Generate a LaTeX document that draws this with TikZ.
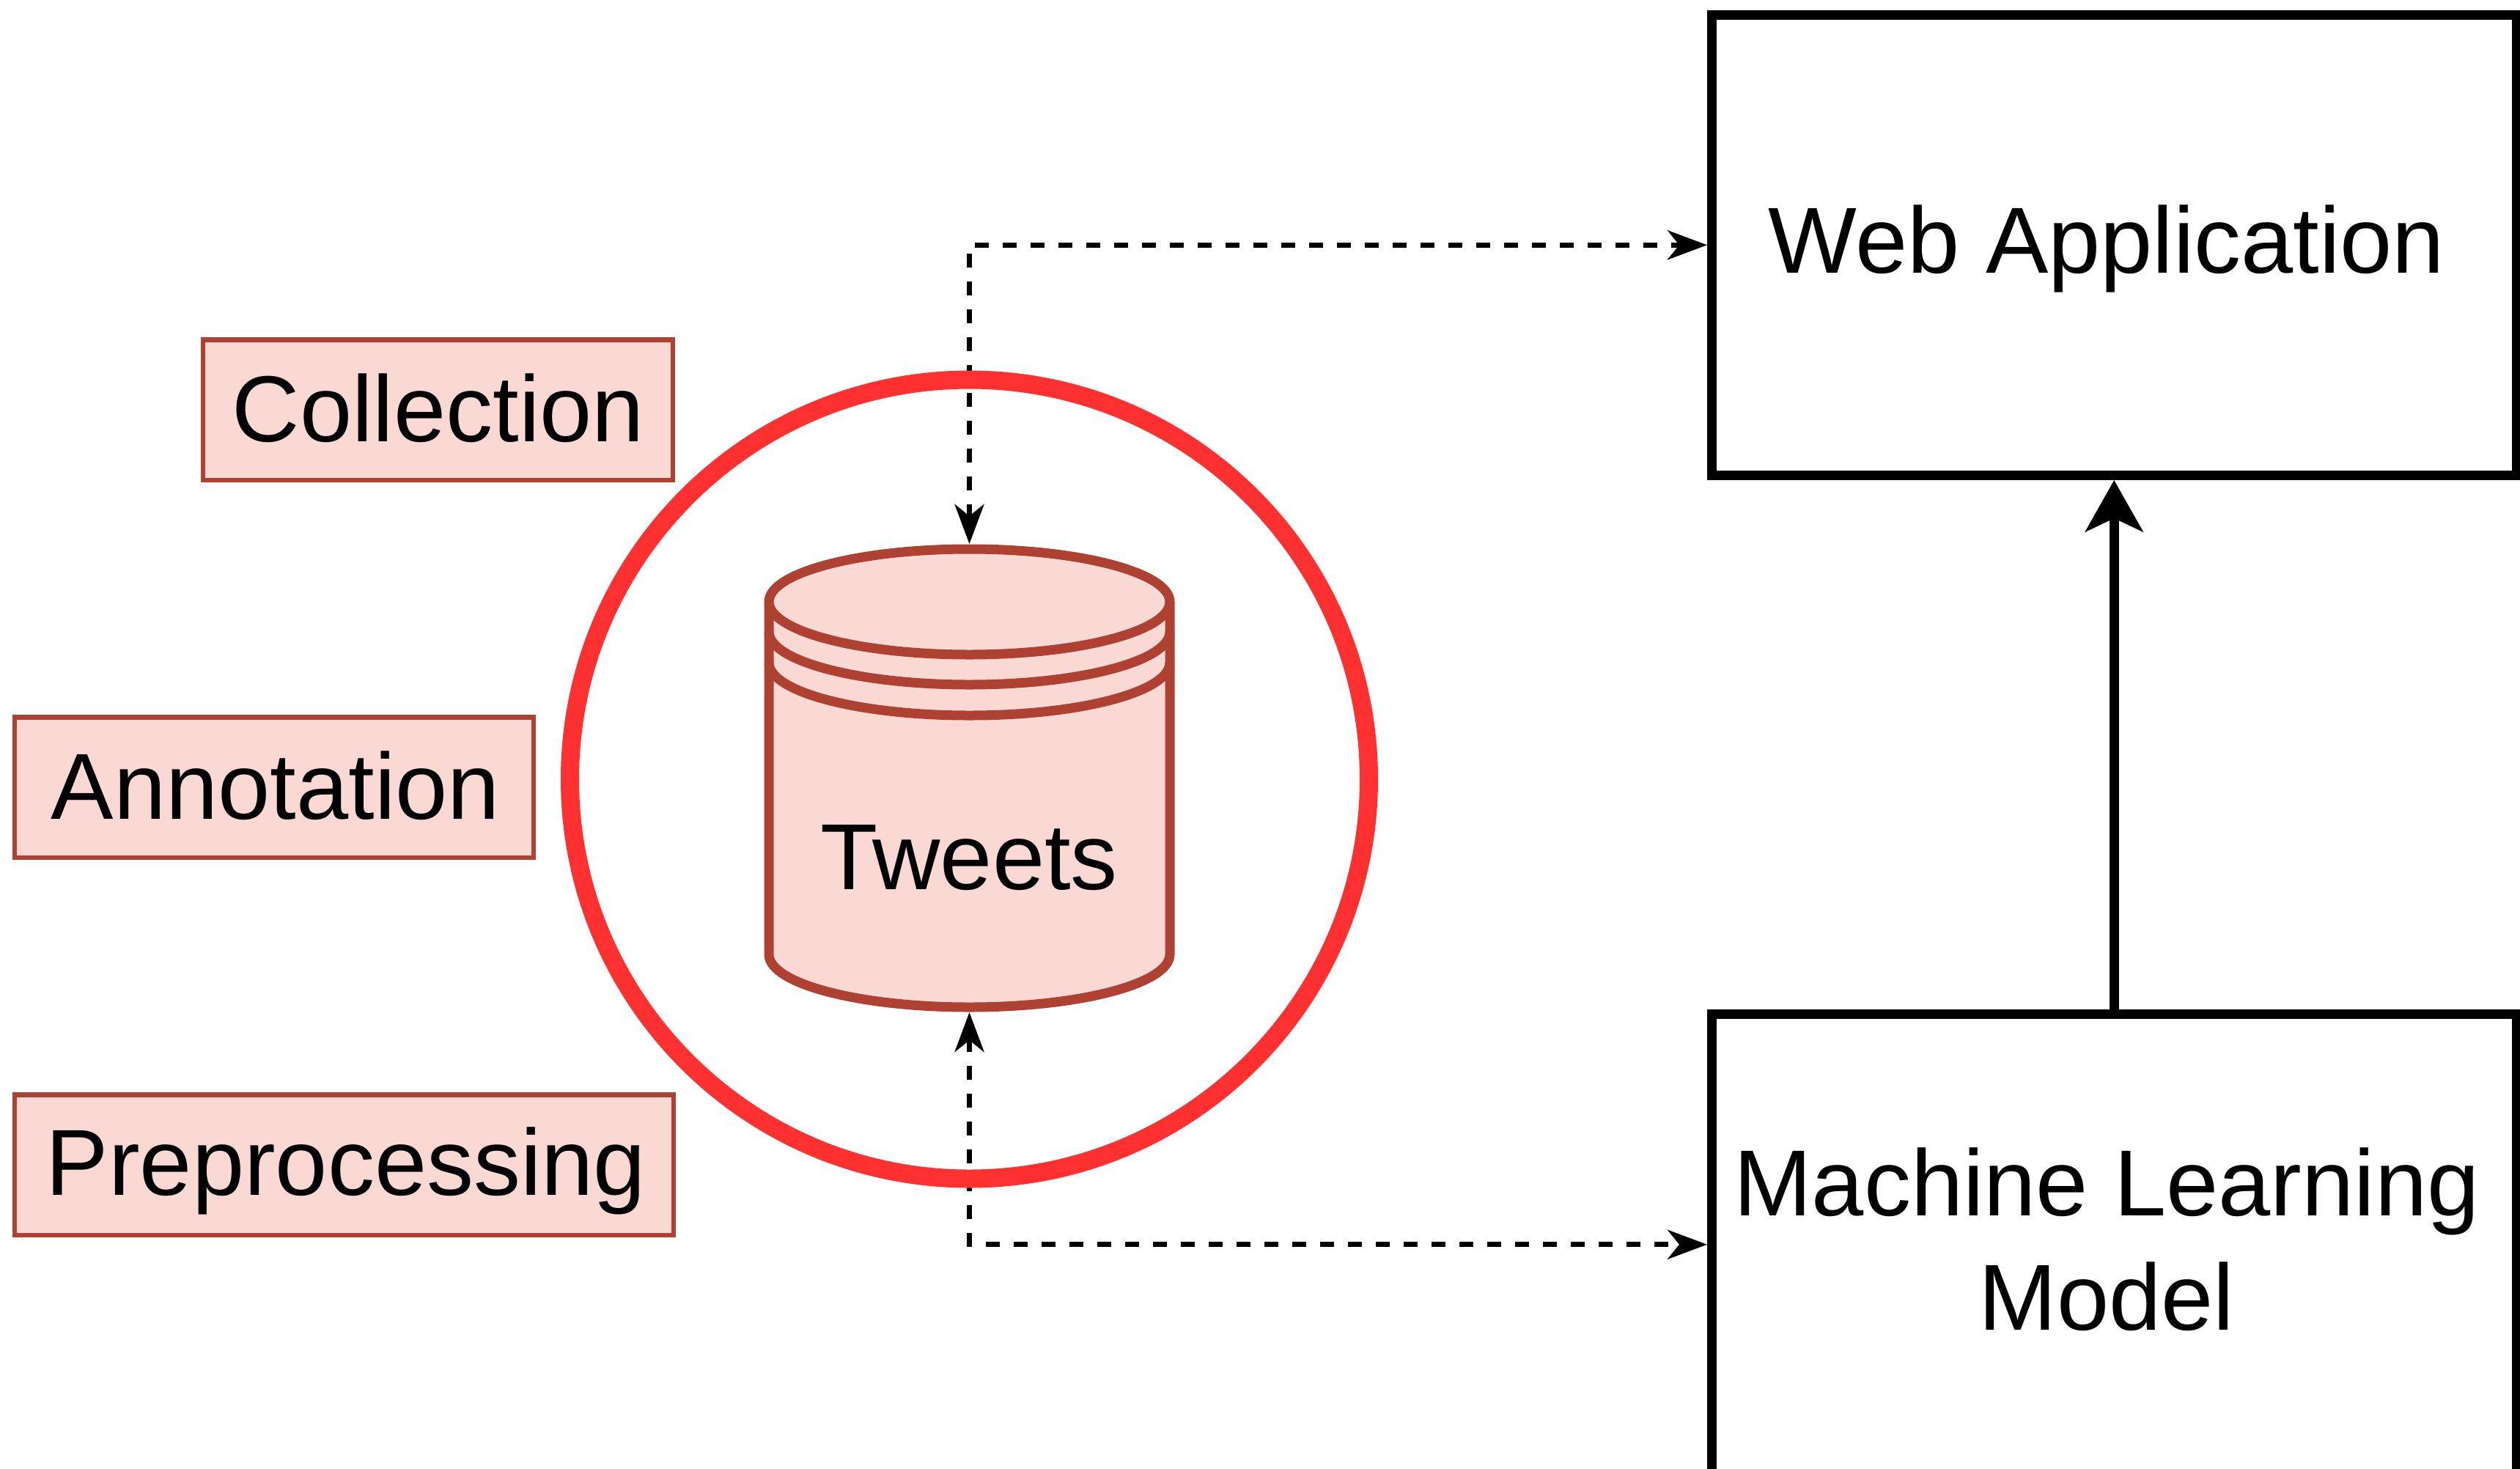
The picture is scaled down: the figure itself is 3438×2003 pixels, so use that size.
\documentclass[tikz,border=0pt]{standalone}
\usepackage{fontspec}
\setmainfont{Liberation Sans}
\usetikzlibrary{arrows.meta}
\definecolor{tagfill}{HTML}{FAD9D5}
\definecolor{tagline}{HTML}{AE4132}
\definecolor{ringred}{HTML}{FF3030}
\tikzset{
  x=0.5pt,y=-0.5pt,
  every node/.style={font=\fontsize{64}{78}\selectfont,align=center,outer sep=0pt,inner sep=0pt},
  blockbox/.style={draw=black,line width=6.5pt,fill=white,anchor=north west,outer sep=3.25pt,
    minimum width=548.75pt,minimum height=314.25pt},
  tagbox/.style={draw=tagline,line width=3.25pt,fill=tagfill,anchor=north west,minimum height=95.75pt},
  dashlink/.style={draw=black,line width=3.5pt,dash pattern=on 9.5pt off 9.5pt,
    {Stealth[length=27pt,width=20pt,inset=8pt]}-{Stealth[length=27pt,width=20pt,inset=8pt]}},
  solidlink/.style={draw=black,line width=6.5pt,-{Stealth[length=35pt,width=39pt,inset=9pt]}},
  cyl/.style={draw=tagline,line width=6.5pt,fill=tagfill,line join=round},
  cylline/.style={draw=tagline,line width=6.5pt},
}
\begin{document}
\begin{tikzpicture}
\useasboundingbox (0,0) rectangle (3438,2003);
% Blocks
\node[blockbox] (web) at (2329,13.5) {};
\node (webtext) at (2874,339) {Web Application};
\node[blockbox] (ml) at (2329,1377) {};
\node (mltext) at (2874,1691) {Machine Learning\\Model};
% Tags
\node[tagbox,minimum width=320.5pt] (collection) at (277,463.5) {};
\node (collectiontext) at (598,557) {Collection};
\node[tagbox,minimum width=354pt] (annotation) at (20,978.5) {};
\node (annotationtext) at (376,1072) {Annotation};
\node[tagbox,minimum width=449.5pt] (preproc) at (20,1493.5) {};
\node (preproctext) at (472,1597) {Preprocessing};
% Cylinder
\path[cyl] (1049,821) -- (1049,1302) arc[start angle=180,end angle=0,x radius=273.5,y radius=72]
  -- (1596,821) arc[start angle=0,end angle=-180,x radius=273.5,y radius=72] -- cycle;
\draw[cylline] (1049,821) arc[start angle=180,end angle=0,x radius=273.5,y radius=72];
\draw[cylline] (1049,862) arc[start angle=180,end angle=0,x radius=273.5,y radius=72];
\draw[cylline] (1049,904) arc[start angle=180,end angle=0,x radius=273.5,y radius=72];
\node[minimum width=280.5pt,minimum height=319.5pt] (tweets) at (1322.5,1061.5) {};
\node (tweetstext) at (1322,1170) {Tweets};
% Connectors
\draw[dashlink] (tweets.north) |- (web.west);
\draw[dashlink] (tweets.south) |- (ml.west);
\draw[solidlink] (ml.north) -- (web.south);
% Ring
\node[circle,draw=ringred,line width=12.5pt,minimum size=545pt] (ring) at (1322.5,1063) {};
\end{tikzpicture}
\end{document}
